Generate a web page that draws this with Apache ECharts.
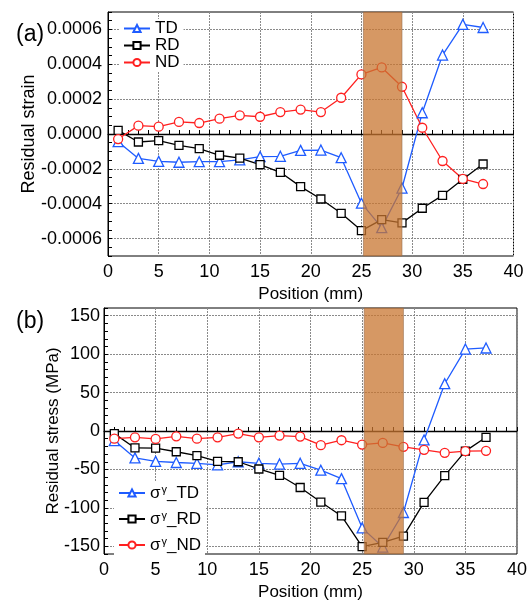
<!DOCTYPE html>
<html>
<head>
    <meta charset="utf-8">
    <title>Residual strain / stress</title>
    <style>
        * { margin: 0; padding: 0; box-sizing: border-box; }
        html, body, #chart { width: 100%; height: 100%; overflow: hidden; background: #fff; }
    </style>
</head>
<body>
    <div id="chart"></div>
    <script src="https://cdn.jsdelivr.net/npm/echarts@6/dist/echarts.min.js"></script>
    <script>
        // measurement positions (mm)
        var positions = [1, 3, 5, 7, 9, 11, 13, 15, 17, 19, 21, 23, 25, 27, 29, 31, 33, 35, 37];

        // (a) residual strain
        var strainTD = [-0.000044, -0.000140, -0.000157, -0.000162, -0.000159, -0.000159, -0.000149, -0.000130, -0.000128, -0.000094, -0.000092, -0.000136, -0.000397, -0.000537, -0.000310, 0.000122, 0.000453, 0.000629, 0.000611];
        var strainRD = [0.000021, -0.000046, -0.000038, -0.000065, -0.000084, -0.000122, -0.000138, -0.000176, -0.000220, -0.000302, -0.000373, -0.000455, -0.000554, -0.000491, -0.000510, -0.000426, -0.000352, -0.000260, -0.000172];
        var strainND = [-0.000029, 0.000048, 0.000042, 0.000069, 0.000063, 0.000088, 0.000107, 0.000099, 0.000126, 0.000140, 0.000126, 0.000208, 0.000342, 0.000382, 0.000271, 0.000036, -0.000155, -0.000258, -0.000287];

        // (b) residual stress (MPa)
        var stressTD = [-12.5, -35, -39.5, -41, -42, -44, -40, -42, -43, -42, -51, -62, -126, -151, -106, -11.6, 61.5, 106.6, 108];
        var stressRD = [-3.4, -22, -22.3, -27, -32, -39.5, -40, -49.4, -57.6, -73.5, -92.4, -110.5, -150.4, -145, -136.7, -92.8, -58, -26.2, -8.2];
        var stressND = [-10, -8.2, -10.3, -6.9, -10, -8.2, -3.4, -8.2, -6, -7.3, -18.5, -12, -17.6, -15.5, -20.6, -24.5, -28.4, -26.2, -25.8];

        var strainNames = ['TD', 'RD', 'ND'];
        var stressNames = ['σ^γ_TD', 'σ^γ_RD', 'σ^γ_ND'];
        var bandRange = [25.2, 29];

        var FONT = '"Liberation Sans", Arial, sans-serif';
        var colors = ['#1f5cff', '#000000', '#ff2020'];
        var symbols = ['triangle', 'rect', 'circle'];
        var symbolSizes = [10, 8, 9];
        var GRID = '#8a8a8a';
        var T = 'rgba(0,0,0,0)';

        var chart = echarts.init(document.getElementById('chart'));

        function pairs(ys) {
            return positions.map(function (x, i) { return [x, ys[i]]; });
        }

        function lineSeries(name, ys, k, idx) {
            return {
                name: name,
                type: 'line',
                xAxisIndex: idx,
                yAxisIndex: idx,
                data: pairs(ys),
                symbol: symbols[k],
                symbolSize: symbolSizes[k],
                showAllSymbol: true,
                color: colors[k],
                lineStyle: { width: 1.3, color: colors[k] },
                itemStyle: { color: '#fff', borderColor: colors[k], borderWidth: 1.3 },
                animation: false
            };
        }

        // zero line + shaded band, drawn by an empty helper series per panel
        function bandSeries(idx, yTop, yBottom) {
            return {
                type: 'line',
                xAxisIndex: idx,
                yAxisIndex: idx,
                data: [],
                clip: false,
                silent: true,
                animation: false,
                markLine: {
                    z: 1,
                    symbol: 'none',
                    silent: true,
                    label: { show: false },
                    lineStyle: { color: '#000', width: 1.3, type: 'solid' },
                    data: [{ yAxis: 0 }]
                },
                markArea: {
                    z: 10,
                    silent: true,
                    itemStyle: { color: 'rgba(200,118,48,0.75)', borderColor: 'rgba(150,110,80,0.6)', borderWidth: 1 },
                    data: [[{ coord: [bandRange[0], yTop] }, { coord: [bandRange[1], yBottom] }]]
                }
            };
        }

        function xAxis(idx) {
            return {
                type: 'value',
                gridIndex: idx,
                min: 0,
                max: 40,
                interval: 5,
                name: 'Position (mm)',
                nameLocation: 'middle',
                nameGap: 30,
                nameMoveOverlap: false,
                nameTextStyle: { fontSize: 17, fontFamily: FONT, color: '#000' },
                axisLine: { show: true, lineStyle: { color: '#000', width: 1 } },
                axisTick: { show: true, inside: true, length: 4, lineStyle: { color: '#000' } },
                minorTick: { show: true, splitNumber: 5, length: 4, lineStyle: { color: '#000' } },
                axisLabel: { fontSize: 18, fontFamily: FONT, color: '#000', margin: 7 },
                splitLine: { show: true, lineStyle: { color: GRID, type: [2, 1], width: 1 } }
            };
        }

        var option = {
            animation: false,
            backgroundColor: '#fff',
            title: [
                { text: '(a)', left: 11, top: 18, textStyle: { fontSize: 23, fontWeight: 'normal', fontFamily: FONT, color: '#000' } },
                { text: '(b)', left: 11, top: 305, textStyle: { fontSize: 23, fontWeight: 'normal', fontFamily: FONT, color: '#000' } }
            ],
            grid: [
                { left: 108, right: 17.5, top: 12, height: 244, show: true, borderColor: '#000', borderWidth: 1, backgroundColor: 'transparent' },
                { left: 104, right: 14, top: 308, height: 248, show: true, borderColor: '#000', borderWidth: 1, backgroundColor: 'transparent' }
            ],
            legend: [
                {
                    data: strainNames,
                    orient: 'vertical',
                    left: 119,
                    top: 19,
                    padding: [1, 4, 1, 4],
                    backgroundColor: '#fff',
                    itemWidth: 26,
                    itemHeight: 9,
                    itemGap: 0,
                    textStyle: { fontSize: 17, lineHeight: 17, fontFamily: FONT, color: '#000' }
                },
                {
                    data: stressNames,
                    orient: 'vertical',
                    left: 114,
                    top: 482,
                    padding: [2, 4, 2, 4],
                    backgroundColor: '#fff',
                    itemWidth: 26,
                    itemHeight: 9,
                    itemGap: 6,
                    formatter: function (name) {
                        var parts = name.split('^γ');
                        return '{a|' + parts[0] + '}{s|γ}{a|' + parts[1] + '}';
                    },
                    textStyle: {
                        fontSize: 17, fontFamily: FONT, color: '#000',
                        rich: {
                            a: { fontSize: 17, lineHeight: 18, fontFamily: FONT, color: '#000' },
                            s: { fontSize: 11, lineHeight: 18, fontFamily: FONT, color: '#000', verticalAlign: 'top', padding: [0, 0, 9, 1] }
                        }
                    }
                }
            ],
            xAxis: [xAxis(0), xAxis(1)],
            yAxis: [
                {
                    type: 'value',
                    gridIndex: 0,
                    min: -0.0007,
                    max: 0.0007,
                    interval: 0.00005,
                    name: 'Residual strain',
                    nameLocation: 'middle',
                    nameGap: 70,
                    nameMoveOverlap: false,
                    nameTextStyle: { fontSize: 18, fontFamily: FONT, color: '#000' },
                    axisLine: { show: true, lineStyle: { color: '#000' } },
                    axisTick: { show: true, inside: true, length: 4, lineStyle: { color: '#000' } },
                    axisLabel: {
                        fontSize: 18, fontFamily: FONT, color: '#000', margin: 6,
                        formatter: function (v) {
                            var n = Math.round(v * 1e5);
                            return (n % 20 === 0) ? (n / 1e5).toFixed(4) : '';
                        }
                    },
                    splitLine: { show: true, lineStyle: { color: [T, T, GRID, T], type: [2, 1], width: 1 } }
                },
                {
                    type: 'value',
                    gridIndex: 1,
                    min: -160,
                    max: 160,
                    interval: 10,
                    name: 'Residual stress (MPa)',
                    nameLocation: 'middle',
                    nameGap: 42,
                    nameMoveOverlap: false,
                    nameTextStyle: { fontSize: 17, fontFamily: FONT, color: '#000' },
                    axisLine: { show: true, lineStyle: { color: '#000' } },
                    axisTick: { show: true, inside: true, length: 4, lineStyle: { color: '#000' } },
                    axisLabel: {
                        fontSize: 18, fontFamily: FONT, color: '#000', margin: 4,
                        formatter: function (v) {
                            return (Math.round(v) % 50 === 0) ? String(Math.round(v)) : '';
                        }
                    },
                    splitLine: { show: true, lineStyle: { color: [T, GRID, T, T, T], type: [2, 1], width: 1 } }
                }
            ],
            series: [
                lineSeries(strainNames[0], strainTD, 0, 0),
                lineSeries(strainNames[1], strainRD, 1, 0),
                lineSeries(strainNames[2], strainND, 2, 0),
                bandSeries(0, 0.00073, -0.000706),
                lineSeries(stressNames[0], stressTD, 0, 1),
                lineSeries(stressNames[1], stressRD, 1, 1),
                lineSeries(stressNames[2], stressND, 2, 1),
                bandSeries(1, 161.5, -162.5)
            ]
        };

        chart.setOption(option);
    </script>
</body>
</html>
